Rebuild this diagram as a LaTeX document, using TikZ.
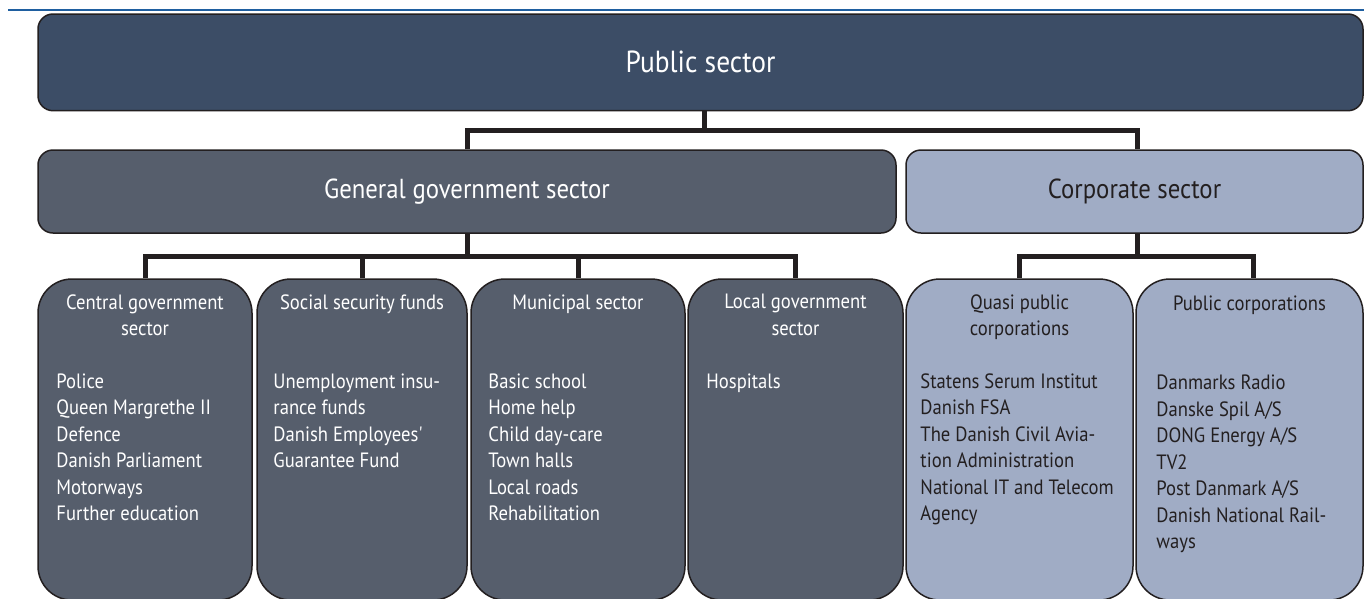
\documentclass[tikz,border=0pt]{standalone}
\usepackage{fontspec}
\setmainfont{PT Sans}[FakeStretch=0.9]
\newfontfamily\plainquote{PT Sans}[FakeStretch=0.9, Ligatures=TeXOff]
\usetikzlibrary{calc}
\definecolor{topfill}{HTML}{3C4D66}
\definecolor{darkfill}{HTML}{565E6C}
\definecolor{lightfill}{HTML}{A0ACC5}
\definecolor{ink}{HTML}{231F20}
\definecolor{rulecol}{HTML}{1F5FA0}
\begin{document}
\begin{tikzpicture}[x=1pt,y=-1pt,
  box/.style={draw=ink, line width=1.5pt, rectangle, inner sep=0pt},
  bigbox/.style={box, rounded corners=15pt},
  childbox/.style={box, rounded corners=34pt, minimum height=321pt},
  darkbox/.style={fill=darkfill},
  lightbox/.style={fill=lightfill},
  conn/.style={draw=ink, line width=5pt},
  headtxt/.style={inner sep=0pt, anchor=north, align=center, font=\fontsize{20.7}{26.5}\selectfont},
  listtxt/.style={inner sep=0pt, anchor=north west, align=left, font=\fontsize{20.7}{26.5}\selectfont},
  onDark/.style={text=white},
  onLight/.style={text=ink}
]
\useasboundingbox (0,0) rectangle (1364,598);
\clip (0,0) rectangle (1364,598);
\fill[white] (0,0) rectangle (1364,598);

% top rule
\coordinate (ruleL) at (8,10);
\coordinate (ruleR) at (1364,10);
\draw[rulecol, line width=2.4pt] (ruleL) -- (ruleR);

% level 1 and 2
\node[bigbox, fill=topfill, minimum width=1325pt, minimum height=96.7pt,
      text=white, font=\fontsize{30.5}{36}\selectfont] (top) at (700.5,62.35) {Public sector};
\node[bigbox, darkbox, minimum width=858pt, minimum height=83pt,
      text=white, font=\fontsize{27.5}{33}\selectfont] (gg) at (467,191.5) {General government sector};
\node[bigbox, lightbox, minimum width=457pt, minimum height=83pt,
      text=ink, font=\fontsize{27.5}{33}\selectfont] (corp) at (1134.5,191.5) {Corporate sector};

% children boxes
\node[childbox, darkbox, minimum width=214pt] (cg) at (145,439.5) {};
\node[childbox, darkbox, minimum width=210pt] (ss) at (362,439.5) {};
\node[childbox, darkbox, minimum width=214pt] (mu) at (578,439.5) {};
\node[childbox, darkbox, minimum width=215pt] (lg) at (795.5,439.5) {};
\node[childbox, lightbox, minimum width=227pt] (qp) at (1019.5,439.5) {};
\node[childbox, lightbox, minimum width=227pt] (pc) at (1249.5,439.5) {};

% connectors
\coordinate (bus1) at (0,130.5);
\coordinate (bus2) at (0,256.7);
\coordinate (bus3) at (0,256.7);
\draw[conn] ($(top.south)+(3.5,0)$) -- ($(top.south |- bus1)+(3.5,0)$);
\draw[conn] (gg.north) -- (gg.north |- bus1) -- ($(corp.north |- bus1)+(2.5,0)$) -- ($(corp.north)+(2.5,0)$);
\draw[conn] (gg.south) -- (gg.south |- bus2);
\draw[conn] (cg.north) -- (cg.north |- bus2) -- (lg.north |- bus2) -- (lg.north);
\draw[conn] (ss.north) -- (ss.north |- bus2);
\draw[conn] (mu.north) -- (mu.north |- bus2);
\draw[conn] ($(corp.south)+(2.5,0)$) -- ($(corp.south |- bus3)+(2.5,0)$);
\draw[conn] (qp.north) -- (qp.north |- bus3) -- ($(pc.north |- bus3)+(3.5,0)$) -- ($(pc.north)+(3.5,0)$);

% child texts
\node[headtxt, onDark] (cgh) at ($(cg.north)+(0,16)$) {Central government\\sector};
\node[listtxt, onDark] (cgl) at ($(cg.north west)+(19,95)$) {Police\\Queen Margrethe II\\Defence\\Danish Parliament\\Motorways\\Further education};

\node[headtxt, onDark] (ssh) at ($(ss.north)+(0,16)$) {Social security funds};
\node[listtxt, onDark] (ssl) at ($(ss.north west)+(17,95)$) {Unemployment insu-\\rance funds\\Danish Employees{\plainquote'}\\Guarantee Fund};

\node[headtxt, onDark] (muh) at ($(mu.north)+(0,16)$) {Municipal sector};
\node[listtxt, onDark] (mul) at ($(mu.north west)+(18,95)$) {Basic school\\Home help\\Child day-care\\Town halls\\Local roads\\Rehabilitation};

\node[headtxt, onDark] (lgh) at ($(lg.north)+(0,16)$) {Local government\\sector};
\node[listtxt, onDark] (lgl) at ($(lg.north west)+(19,95)$) {Hospitals};

\node[headtxt, onLight] (qph) at ($(qp.north)+(0,16)$) {Quasi public\\corporations};
\node[listtxt, onLight] (qpl) at ($(qp.north west)+(15,95)$) {Statens Serum Institut\\Danish FSA\\The Danish Civil Avia-\\tion Administration\\National IT and Telecom\\Agency};

\node[headtxt, onLight] (pch) at ($(pc.north)+(0,17.5)$) {Public corporations};
\node[listtxt, onLight] (pcl) at ($(pc.north west)+(21,96.5)$) {Danmarks Radio\\Danske Spil A/S\\DONG Energy A/S\\TV2\\Post Danmark A/S\\Danish National Rail-\\ways};
\end{tikzpicture}
\end{document}
